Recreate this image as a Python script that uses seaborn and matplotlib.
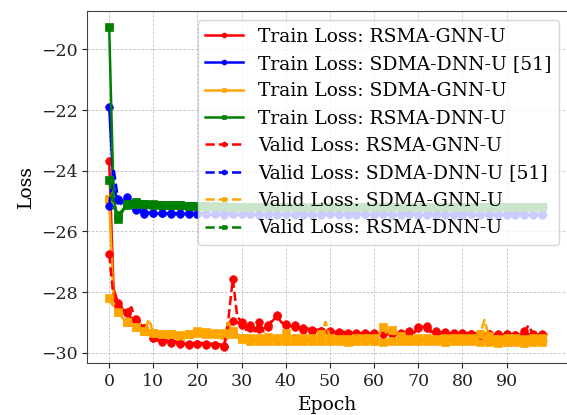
import numpy as np
import pandas as pd
import matplotlib
matplotlib.use("Agg")
import matplotlib.pyplot as plt
import seaborn as sns

epochs = list(range(100))

train_rsma_gnn = [
    -23.67, -27.9, -28.35, -28.55, -28.7, -28.85, -28.95, -29.05, -29.2, -29.35,
    -29.5, -29.55, -29.62, -29.6, -29.65, -29.62, -29.68, -29.7, -29.72, -29.68,
    -29.7, -29.68, -29.72, -29.7, -29.74, -29.72, -29.78, -29.2, -28.95, -29.0,
    -29.1, -29.15, -29.2, -29.18, -29.22, -29.2, -29.1, -28.95, -28.8, -29.0,
    -29.1, -29.12, -29.15, -29.18, -29.2, -29.22, -29.25, -29.24, -29.27, -29.3,
    -29.3, -29.32, -29.33, -29.32, -29.35, -29.34, -29.35, -29.36, -29.35, -29.37,
    -29.35, -29.38, -29.36, -29.35, -29.38, -29.35, -29.37, -29.36, -29.3, -29.35,
    -29.2, -29.15, -29.12, -29.3, -29.35, -29.33, -29.35, -29.36, -29.38, -29.36,
    -29.35, -29.37, -29.38, -29.36, -29.4, -29.38, -29.37, -29.4, -29.38, -29.4,
    -29.38, -29.4, -29.42, -29.4, -29.38, -29.4, -29.42, -29.4, -29.41, -29.4]

train_sdma_dnn = [
    -21.89, -24.6, -24.95, -25.05, -24.85, -25.0, -25.3, -25.35, -25.42, -25.4,
    -25.4, -25.42, -25.4, -25.43, -25.4, -25.42, -25.44, -25.42, -25.43, -25.45,
    -25.43, -25.44, -25.42, -25.45, -25.43, -25.44, -25.45, -25.43, -25.44, -25.45,
    -25.44, -25.45, -25.43, -25.44, -25.45, -25.44, -25.45, -25.44, -25.45, -25.46,
    -25.44, -25.45, -25.46, -25.44, -25.45, -25.46, -25.45, -25.44, -25.46, -25.45,
    -25.44, -25.46, -25.45, -25.44, -25.46, -25.45, -25.46, -25.45, -25.44, -25.46,
    -25.45, -25.46, -25.44, -25.45, -25.46, -25.45, -25.46, -25.45, -25.44, -25.46,
    -25.45, -25.46, -25.45, -25.44, -25.46, -25.45, -25.46, -25.45, -25.46, -25.45,
    -25.46, -25.45, -25.44, -25.46, -25.45, -25.46, -25.45, -25.46, -25.45, -25.46,
    -25.45, -25.46, -25.45, -25.46, -25.45, -25.46, -25.45, -25.46, -25.45, -25.46]

train_sdma_gnn = [
    -24.94, -28.35, -28.65, -28.85, -29.0, -29.1, -29.15, -29.22, -29.3, -29.32,
    -29.35, -29.38, -29.4, -29.42, -29.4, -29.42, -29.45, -29.38, -29.4, -29.42,
    -29.35, -29.4, -29.38, -29.42, -29.4, -29.45, -29.42, -29.48, -29.4, -29.5,
    -29.55, -29.52, -29.6, -29.55, -29.6, -29.58, -29.62, -29.58, -29.6, -29.62,
    -29.6, -29.62, -29.6, -29.63, -29.6, -29.62, -29.6, -29.64, -29.6, -29.62,
    -29.6, -29.63, -29.6, -29.62, -29.64, -29.6, -29.62, -29.6, -29.63, -29.6,
    -29.62, -29.6, -29.64, -29.6, -29.62, -29.6, -29.63, -29.6, -29.62, -29.64,
    -29.6, -29.62, -29.6, -29.63, -29.6, -29.62, -29.64, -29.6, -29.62, -29.6,
    -29.63, -29.6, -29.62, -29.6, -29.64, -29.62, -29.66, -29.7, -29.68, -29.7,
    -29.66, -29.62, -29.64, -29.6, -29.68, -29.7, -29.66, -29.62, -29.64, -29.62]

train_rsma_dnn = [
    -19.25, -24.9, -25.6, -25.35, -25.12, -25.05, -25.03, -25.06, -25.08, -25.1,
    -25.1, -25.12, -25.12, -25.13, -25.14, -25.15, -25.14, -25.15, -25.16, -25.15,
    -25.16, -25.17, -25.16, -25.17, -25.18, -25.17, -25.18, -25.17, -25.18, -25.19,
    -25.18, -25.19, -25.18, -25.19, -25.2, -25.19, -25.18, -25.19, -25.2, -25.19,
    -25.18, -25.19, -25.2, -25.19, -25.2, -25.19, -25.18, -25.19, -25.2, -25.19,
    -25.2, -25.19, -25.2, -25.19, -25.18, -25.19, -25.2, -25.19, -25.2, -25.19,
    -25.2, -25.19, -25.2, -25.19, -25.2, -25.19, -25.2, -25.19, -25.2, -25.19,
    -25.2, -25.19, -25.2, -25.19, -25.2, -25.19, -25.2, -25.19, -25.2, -25.19,
    -25.2, -25.19, -25.2, -25.19, -25.2, -25.19, -25.2, -25.19, -25.2, -25.19,
    -25.2, -25.19, -25.2, -25.19, -25.2, -25.19, -25.2, -25.19, -25.2, -25.19]

valid_rsma_gnn = [
    -26.75, -28.2, -28.45, -28.6, -28.65, -28.5, -28.9, -29.1, -29.2, -29.4,
    -29.5, -29.6, -29.65, -29.6, -29.68, -29.65, -29.7, -29.72, -29.75, -29.7,
    -29.72, -29.7, -29.75, -29.72, -29.76, -29.74, -29.8, -28.9, -27.56, -28.8,
    -29.0, -29.25, -29.1, -29.3, -29.0, -29.3, -29.15, -28.9, -28.75, -29.0,
    -29.05, -29.15, -29.1, -29.2, -29.25, -29.2, -29.3, -29.25, -29.3, -29.28,
    -29.35, -29.3, -29.38, -29.3, -29.4, -29.32, -29.38, -29.35, -29.4, -29.36,
    -29.38, -29.33, -29.4, -29.35, -29.3, -29.38, -29.35, -29.4, -29.32, -29.38,
    -29.15, -29.1, -29.2, -29.35, -29.3, -29.38, -29.33, -29.4, -29.35, -29.38,
    -29.4, -29.35, -29.4, -29.38, -29.42, -29.35, -29.4, -29.38, -29.42, -29.4,
    -29.4, -29.38, -29.42, -29.45, -29.3, -29.1, -29.4, -29.45, -29.38, -29.42]

valid_sdma_dnn = [
    -25.15, -23.92, -24.94, -25.15, -25.0, -25.05, -25.25, -25.3, -25.35, -25.38,
    -25.38, -25.4, -25.38, -25.4, -25.42, -25.4, -25.4, -25.42, -25.4, -25.41,
    -25.42, -25.4, -25.41, -25.42, -25.4, -25.41, -25.42, -25.41, -25.42, -25.41,
    -25.42, -25.41, -25.42, -25.43, -25.41, -25.42, -25.43, -25.42, -25.41, -25.43,
    -25.42, -25.43, -25.42, -25.41, -25.43, -25.42, -25.43, -25.42, -25.43, -25.42,
    -25.43, -25.42, -25.43, -25.42, -25.43, -25.42, -25.43, -25.42, -25.43, -25.42,
    -25.43, -25.42, -25.43, -25.42, -25.43, -25.42, -25.43, -25.42, -25.43, -25.42,
    -25.43, -25.42, -25.43, -25.42, -25.43, -25.42, -25.43, -25.42, -25.43, -25.42,
    -25.43, -25.42, -25.43, -25.42, -25.43, -25.42, -25.43, -25.42, -25.43, -25.42,
    -25.43, -25.42, -25.43, -25.42, -25.43, -25.42, -25.43, -25.42, -25.43, -25.42]

valid_sdma_gnn = [
    -28.2, -28.5, -28.65, -28.8, -29.0, -29.05, -29.15, -29.25, -29.3, -28.9,
    -29.35, -29.4, -29.38, -29.42, -29.4, -29.38, -29.42, -29.35, -29.4, -29.38,
    -29.3, -29.35, -29.32, -29.38, -29.35, -29.4, -29.35, -29.0, -29.3, -29.4,
    -29.5, -29.45, -29.5, -29.48, -29.52, -29.5, -29.48, -29.5, -29.52, -29.5,
    -29.35, -29.45, -29.5, -29.52, -29.5, -29.55, -29.5, -29.52, -29.4, -28.98,
    -29.5, -29.52, -29.55, -29.5, -29.55, -29.52, -29.5, -29.55, -29.52, -29.5,
    -29.5, -29.45, -29.15, -29.4, -29.25, -29.5, -29.45, -29.5, -29.55, -29.5,
    -29.5, -29.55, -29.52, -29.5, -29.55, -29.5, -29.52, -29.55, -29.5, -29.52,
    -29.5, -29.55, -29.52, -29.5, -29.4, -28.92, -29.45, -29.5, -29.55, -29.52,
    -29.5, -29.55, -29.52, -29.5, -29.55, -29.52, -29.5, -29.55, -29.52, -29.5]

valid_rsma_dnn = [
    -24.31, -25.2, -25.45, -25.3, -25.1, -25.05, -25.08, -25.1, -25.1, -25.12,
    -25.12, -25.13, -25.12, -25.14, -25.13, -25.15, -25.14, -25.15, -25.16, -25.15,
    -25.16, -25.15, -25.16, -25.17, -25.16, -25.17, -25.16, -25.17, -25.18, -25.17,
    -25.18, -25.17, -25.18, -25.17, -25.18, -25.17, -25.18, -25.17, -25.18, -25.17,
    -25.18, -25.17, -25.18, -25.17, -25.18, -25.17, -25.18, -25.17, -25.18, -25.17,
    -25.18, -25.17, -25.18, -25.17, -25.18, -25.17, -25.18, -25.17, -25.18, -25.17,
    -25.18, -25.17, -25.18, -25.17, -25.18, -25.17, -25.18, -25.17, -25.18, -25.17,
    -25.18, -25.17, -25.18, -25.17, -25.18, -25.17, -25.18, -25.17, -25.18, -25.17,
    -25.18, -25.17, -25.18, -25.17, -25.18, -25.17, -25.18, -25.17, -25.18, -25.17,
    -25.18, -25.17, -25.18, -25.17, -25.18, -25.17, -25.18, -25.17, -25.18, -25.17]

labels = [
    "Train Loss: RSMA-GNN-U", "Train Loss: SDMA-DNN-U [51]",
    "Train Loss: SDMA-GNN-U", "Train Loss: RSMA-DNN-U",
    "Valid Loss: RSMA-GNN-U", "Valid Loss: SDMA-DNN-U [51]",
    "Valid Loss: SDMA-GNN-U", "Valid Loss: RSMA-DNN-U",
]
series = [train_rsma_gnn, train_sdma_dnn, train_sdma_gnn, train_rsma_dnn,
          valid_rsma_gnn, valid_sdma_dnn, valid_sdma_gnn, valid_rsma_dnn]
colors = ["red", "blue", "orange", "green", "red", "blue", "orange", "green"]
markers = ["o", "o", "s", "s", "o", "o", "s", "s"]
styles = ["-", "-", "-", "-", "--", "--", "--", "--"]
xticks = [0, 10, 20, 30, 40, 50, 60, 70, 80, 90]
yticks = [-30, -28, -26, -24, -22, -20]

plt.rcParams["font.family"] = ["DejaVu Serif"]
plt.rcParams["font.size"] = 12

fig = plt.figure(figsize=(5.67, 4.15), dpi=100)
ax = fig.add_axes([0.154, 0.1246, 0.848, 0.8497])

for lab, vals, c, m, ls in zip(labels, series, colors, markers, styles):
    df = pd.DataFrame({"Epoch": epochs, "Loss": vals})
    sns.lineplot(data=df, x="Epoch", y="Loss", ax=ax, color=c, marker=m,
                 markersize=5.5, markeredgecolor=c, markeredgewidth=0.5,
                 markevery=2, linestyle=ls, linewidth=1.8, label=lab)

ax.set_xlim(-4.95, 103.95)
ax.set_ylim(-30.35, -18.72)
ax.set_xticks(xticks)
ax.set_yticks(yticks)
ax.tick_params(labelsize=12.5, colors="#222222")
for s in ["left", "bottom", "top"]:
    ax.spines[s].set_color("#444444")
ax.spines["right"].set_visible(False)
ax.grid(True, color="#bdbdbd", linestyle=(0, (3, 2)), linewidth=0.6)
ax.set_axisbelow(True)
ax.set_xlabel("Epoch", fontsize=13.5)
ax.set_ylabel("Loss", fontsize=13.5)
ax.legend(loc="upper right", fontsize=13.5, markerscale=0.65)

fig.savefig("out.png", dpi=100)
